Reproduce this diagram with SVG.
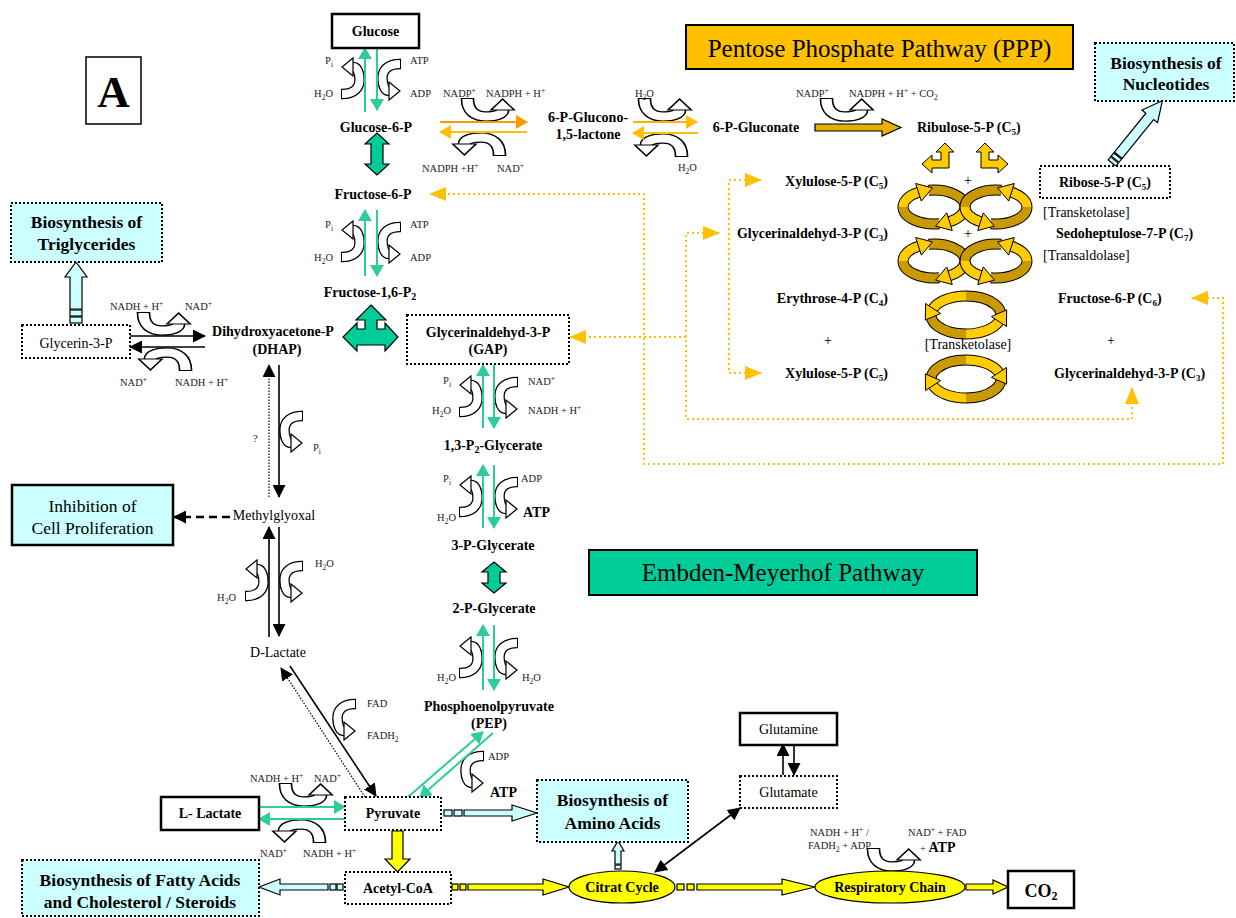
<svg xmlns="http://www.w3.org/2000/svg" width="1236" height="918" viewBox="0 0 1236 918">
<style>
text{font-family:"Liberation Serif","Times New Roman",serif;fill:#000}
.b{font-size:14px;font-weight:bold}
.m{text-anchor:middle}
.e{text-anchor:end}
.s{font-size:10.5px;fill:#222}
.n{font-size:14px}
.big{font-size:17.5px;font-weight:bold}
.dot{fill:#fff;stroke:#000;stroke-width:2;stroke-dasharray:2 2}
.sol{fill:#fff;stroke:#000;stroke-width:2.5}
.cy{fill:#CCFFFF}
.gl{stroke:#2ECC9A;stroke-width:2;fill:none}
.bl{stroke:#000;stroke-width:1.6;fill:none}
.yd{stroke:#FFC000;stroke-width:2;fill:none;stroke-dasharray:2 3}
.ko{fill:none;stroke:#000;stroke-width:11}
.kd{fill:none;stroke:#C99A00;stroke-width:9}
.kl{fill:none;stroke:#FFCC00;stroke-width:9}
.kh{fill:#FFCC00;stroke:#000;stroke-width:1}
.cb{fill:#CCFFFF;stroke:#000;stroke-width:1.2}
.yb{fill:#FFFF00;stroke:#000;stroke-width:1.2}
.gb{fill:#00CC99;stroke:#000;stroke-width:1.2}
</style>
<defs>
<marker id="mg" viewBox="0 0 12 14" refX="11" refY="7" markerWidth="12" markerHeight="14" markerUnits="userSpaceOnUse" orient="auto"><path d="M0,0 L12,7 L0,14 z" fill="#2ECC9A"/></marker>
<marker id="mo" viewBox="0 0 12 14" refX="11" refY="7" markerWidth="12" markerHeight="14" markerUnits="userSpaceOnUse" orient="auto"><path d="M0,0 L12,7 L0,14 z" fill="#FF9900"/></marker>
<marker id="my" viewBox="0 0 12 14" refX="11" refY="7" markerWidth="12" markerHeight="14" markerUnits="userSpaceOnUse" orient="auto"><path d="M0,0 L12,7 L0,14 z" fill="#FFC000"/></marker>
<marker id="mb" viewBox="0 0 13 13" refX="12" refY="6.5" markerWidth="13" markerHeight="13" markerUnits="userSpaceOnUse" orient="auto-start-reverse"><path d="M0,0 L13,6.5 L0,13 z" fill="#000"/></marker>
<marker id="myd" viewBox="0 0 17 14" refX="16" refY="7" markerWidth="17" markerHeight="14" markerUnits="userSpaceOnUse" orient="auto-start-reverse"><path d="M0,0 L17,7 L0,14 z" fill="#FFC000"/></marker>
<g id="ca">
<path d="M-23,15 L-22,15 C-10,15 -4.5,9 -4.5,1 C-4.5,-7 -7,-12 -11,-12" fill="none" stroke="#000" stroke-width="10.5"/>
<path d="M-22,15 C-10,15 -4.5,9 -4.5,1 C-4.5,-7 -7,-12 -11,-12" fill="none" stroke="#fff" stroke-width="8"/>
<polygon points="-11,-21 -22,-12 -11,-3" fill="#fff" stroke="#000" stroke-width="1.2"/>
</g>
<g id="loopL">
<path class="ko" d="M-36.4,-16.7 A31,17 0 0 1 0,0"/><path class="kd" d="M-36.4,-16.7 A31,17 0 0 1 0,0"/>
<path class="ko" d="M-25.6,16.7 A31,17 0 0 1 -62,0"/><path class="kd" d="M-25.6,16.7 A31,17 0 0 1 -62,0"/>
<path class="ko" d="M-62,0 A31,17 0 0 1 -46.5,-14.7"/><path class="kl" d="M-62,0 A31,17 0 0 1 -46.5,-14.7"/>
<path class="ko" d="M0,0 A31,17 0 0 1 -15.5,14.7"/><path class="kl" d="M0,0 A31,17 0 0 1 -15.5,14.7"/>
<polygon class="kh" points="-43.7,-5.9 -32.6,-19.1 -49.3,-23.5"/>
<polygon class="kh" points="-12.7,23.5 -29.4,19.1 -18.3,5.9"/>
</g>
<g id="fig8"><use href="#loopL"/><use href="#loopL" transform="scale(-1,1)"/></g>
<g id="ring">
<path class="ko" d="M0,-19 A35,19 0 0 1 32.9,6.5"/><path class="kd" d="M0,-19 A35,19 0 0 1 32.9,6.5"/>
<path class="ko" d="M0,19 A35,19 0 0 1 -32.9,-6.5"/><path class="kd" d="M0,19 A35,19 0 0 1 -32.9,-6.5"/>
<path class="ko" d="M0,-19 A35,19 0 0 0 -32.9,-6.5"/><path class="kl" d="M0,-19 A35,19 0 0 0 -32.9,-6.5"/>
<path class="ko" d="M0,19 A35,19 0 0 0 32.9,6.5"/><path class="kl" d="M0,19 A35,19 0 0 0 32.9,6.5"/>
<polygon class="kh" points="-25.4,-1.5 -40.7,5.1 -40.4,-11.5"/>
<polygon class="kh" points="40.4,11.5 40.7,-5.1 25.4,1.5"/>
</g>
</defs>
<rect width="1236" height="918" fill="#fff"/>

<g id="connectors">
<path class="yd" d="M1192,298 L1223,298 L1223,464 L644,464 L644,194 L430,194" marker-start="url(#myd)" marker-end="url(#myd)"/>
<path class="yd" d="M719,233 L686,233 L686,419 L1132,419 L1132,388" marker-start="url(#myd)" marker-end="url(#myd)"/>
<path class="yd" d="M686,337 L570,337" marker-end="url(#myd)"/>
<path class="yd" d="M761,180 L729,180 L729,373 L761,373" marker-start="url(#myd)" marker-end="url(#myd)"/>
<use href="#ca" transform="translate(364,79)"/><use href="#ca" transform="translate(378,79) rotate(180)"/>
<use href="#ca" transform="translate(364,242)"/><use href="#ca" transform="translate(378,242) rotate(180)"/>
<use href="#ca" transform="translate(482,397)"/><use href="#ca" transform="translate(495,397) rotate(180)"/>
<use href="#ca" transform="translate(482,497)"/><use href="#ca" transform="translate(495,497) rotate(180)"/>
<use href="#ca" transform="translate(482,658)"/><use href="#ca" transform="translate(495,658) rotate(180)"/>
<use href="#ca" transform="translate(280,431) rotate(180)"/>
<use href="#ca" transform="translate(268,581)"/><use href="#ca" transform="translate(280,581) rotate(180)"/>
<use href="#ca" transform="translate(333,719) rotate(180)"/>
<use href="#ca" transform="translate(461,771) rotate(180)"/>
<use href="#ca" transform="translate(487,121) rotate(90) scale(1,1.3)"/>
<use href="#ca" transform="translate(480,133) rotate(-90) scale(1,1.3)"/>
<use href="#ca" transform="translate(664,121) rotate(90) scale(1,1.3)"/>
<use href="#ca" transform="translate(662,134) rotate(-90) scale(1,1.3)"/>
<use href="#ca" transform="translate(846,121) rotate(90) scale(1,1.3)"/>
<use href="#ca" transform="translate(163,335) rotate(90) scale(1,1.3)"/>
<use href="#ca" transform="translate(166,348) rotate(-90) scale(1,1.3)"/>
<use href="#ca" transform="translate(305,806) rotate(90) scale(1,1.3)"/>
<use href="#ca" transform="translate(300,820) rotate(-90) scale(1,1.3)"/>
<use href="#ca" transform="translate(893,871) rotate(90) scale(1,1.3)"/>
<line class="gl" x1="365" y1="112" x2="365" y2="48" marker-end="url(#mg)"/>
<line class="gl" x1="377" y1="48" x2="377" y2="110" marker-end="url(#mg)"/>
<line class="gl" x1="365" y1="276" x2="365" y2="210" marker-end="url(#mg)"/>
<line class="gl" x1="377" y1="210" x2="377" y2="276" marker-end="url(#mg)"/>
<line class="gl" x1="483" y1="428" x2="483" y2="365" marker-end="url(#mg)"/>
<line class="gl" x1="494" y1="365" x2="494" y2="428" marker-end="url(#mg)"/>
<line class="gl" x1="483" y1="528" x2="483" y2="465" marker-end="url(#mg)"/>
<line class="gl" x1="494" y1="465" x2="494" y2="528" marker-end="url(#mg)"/>
<line class="gl" x1="483" y1="690" x2="483" y2="625" marker-end="url(#mg)"/>
<line class="gl" x1="494" y1="625" x2="494" y2="690" marker-end="url(#mg)"/>
<line class="gl" x1="408" y1="797" x2="483" y2="732" marker-end="url(#mg)"/>
<line class="gl" x1="493" y1="733" x2="420" y2="797" marker-end="url(#mg)"/>
<line class="gl" x1="259" y1="807" x2="345" y2="807" marker-end="url(#mg)"/>
<line class="gl" x1="345" y1="819" x2="259" y2="819" marker-end="url(#mg)"/>
<line x1="440" y1="122" x2="527" y2="122" stroke="#FF9900" stroke-width="2" marker-end="url(#mo)"/>
<line x1="527" y1="132" x2="440" y2="132" stroke="#FFC000" stroke-width="2" marker-end="url(#my)"/>
<line x1="633" y1="122" x2="697" y2="122" stroke="#FFB300" stroke-width="2" marker-end="url(#my)"/>
<line x1="698" y1="133" x2="633" y2="133" stroke="#FFC000" stroke-width="2" marker-end="url(#my)"/>
<polygon points="815,124 882,124 882,119 901,127.5 882,136 882,131 815,131" fill="#E6B000" stroke="#000" stroke-width="1.2"/>
<line class="bl" x1="130" y1="336" x2="205" y2="336" marker-end="url(#mb)"/>
<line class="bl" x1="205" y1="347" x2="130" y2="347" marker-end="url(#mb)"/>
<line class="bl" x1="279" y1="365" x2="279" y2="497" marker-end="url(#mb)"/>
<line x1="269" y1="497" x2="269" y2="365" stroke="#000" stroke-width="1.2" stroke-dasharray="1.5 1.5" marker-end="url(#mb)"/>
<line class="bl" x1="269" y1="637" x2="269" y2="527" marker-end="url(#mb)"/>
<line class="bl" x1="279" y1="527" x2="279" y2="636" marker-end="url(#mb)"/>
<line class="bl" x1="290" y1="666" x2="376" y2="796" marker-end="url(#mb)"/>
<line x1="365" y1="797" x2="281" y2="668" stroke="#000" stroke-width="1.2" stroke-dasharray="1.5 1.5" marker-end="url(#mb)"/>
<line x1="230" y1="517" x2="174" y2="517" stroke="#000" stroke-width="2.5" stroke-dasharray="8 5" marker-end="url(#mb)"/>
<line class="bl" x1="783" y1="775" x2="783" y2="744" marker-end="url(#mb)"/>
<line class="bl" x1="794" y1="744" x2="794" y2="775" marker-end="url(#mb)"/>
<line class="bl" x1="655" y1="872" x2="740" y2="808" marker-start="url(#mb)" marker-end="url(#mb)"/>
<polygon class="gb" points="377,133 389,144 383,144 383,164 389,164 377,175 365,164 371,164 371,144 365,144"/>
<polygon class="gb" points="494,562 506,572 500,572 500,583 506,583 494,593 482,583 488,583 488,572 482,572"/>
<polygon class="gb" points="371,305 386,320 377,320 377,329 385,329 385,323 398,337 385,351 385,345 357,345 357,351 343,337 357,323 357,329 365,329 365,320 356,320"/>
<rect class="cb" x="70" y="317" width="12" height="6"/><rect class="cb" x="70" y="310" width="12" height="6"/>
<polygon class="cb" points="70,309 70,277 65,277 76,262 87,277 82,277 82,309"/>
<g transform="translate(1112,163) rotate(-51)"><rect class="cb" x="0" y="-5" width="4" height="10"/><rect class="cb" x="5" y="-5" width="4" height="10"/><polygon class="cb" points="10,-5 60,-5 60,-10 80,0 60,10 60,5 10,5"/></g>
<rect class="cb" x="444" y="810" width="8" height="6"/><rect class="cb" x="454" y="810" width="8" height="6"/>
<polygon class="cb" points="464,810 512,810 512,805 537,813 512,821 512,816 464,816"/>
<rect class="cb" x="337" y="884" width="6" height="6"/><rect class="cb" x="330" y="884" width="6" height="6"/>
<polygon class="cb" points="328,884 280,884 280,879 259,887 280,895 280,890 328,890"/>
<rect class="cb" x="615" y="865" width="6" height="4"/>
<polygon class="cb" points="615,864 615,851 612,851 618,841 624,851 621,851 621,864"/>
<polygon class="yb" points="392,831 403,831 403,859 410,859 397.5,872 385,859 392,859"/>
<rect class="yb" x="452" y="884" width="6" height="6"/><rect class="yb" x="460" y="884" width="6" height="6"/>
<polygon class="yb" points="468,884 543,884 543,879 569,887 543,895 543,890 468,890"/>
<rect class="yb" x="677" y="884" width="7" height="6"/><rect class="yb" x="687" y="884" width="7" height="6"/>
<polygon class="yb" points="697,884 782,884 782,879 815,887 782,895 782,890 697,890"/>
<polygon class="yb" points="966,884 993,884 993,880 1008,887 993,894 993,890 966,890"/>
<polygon class="kh" points="945,143 954,152 949,152 949,168 932,168 932,173 922,164 932,155 932,160 941,160 941,152 936,152"/>
<polygon class="kh" transform="translate(1930,0) scale(-1,1)" points="945,143 954,152 949,152 949,168 932,168 932,173 922,164 932,155 932,160 941,160 941,152 936,152"/>
<use href="#fig8" transform="translate(965,207)"/>
<use href="#fig8" transform="translate(965,261)"/>
<use href="#ring" transform="translate(966,315)"/>
<use href="#ring" transform="translate(966,379) scale(1,-1)"/>
</g>

<g id="labels">
<text class="s e" x="333" y="64">P<tspan dy="2.5" font-size="7.5">i</tspan></text>
<text class="s e" x="333" y="97">H<tspan dy="2.5" font-size="7.5">2</tspan><tspan dy="-2.5">O</tspan></text>
<text class="s" x="410" y="64">ATP</text><text class="s" x="410" y="97">ADP</text>
<text class="s e" x="333" y="228">P<tspan dy="2.5" font-size="7.5">i</tspan></text>
<text class="s e" x="333" y="261">H<tspan dy="2.5" font-size="7.5">2</tspan><tspan dy="-2.5">O</tspan></text>
<text class="s" x="410" y="228">ATP</text><text class="s" x="410" y="261">ADP</text>
<text class="s e" x="451" y="384">P<tspan dy="2.5" font-size="7.5">i</tspan></text>
<text class="s e" x="451" y="414">H<tspan dy="2.5" font-size="7.5">2</tspan><tspan dy="-2.5">O</tspan></text>
<text class="s" x="528" y="385">NAD<tspan dy="-4" font-size="7.5">+</tspan></text>
<text class="s" x="528" y="414">NADH + H<tspan dy="-4" font-size="7.5">+</tspan></text>
<text class="s e" x="451" y="482">P<tspan dy="2.5" font-size="7.5">i</tspan></text>
<text class="s e" x="456" y="521">H<tspan dy="2.5" font-size="7.5">2</tspan><tspan dy="-2.5">O</tspan></text>
<text class="s" x="521" y="482">ADP</text><text class="b" x="523" y="517">ATP</text>
<text class="s e" x="456" y="681">H<tspan dy="2.5" font-size="7.5">2</tspan><tspan dy="-2.5">O</tspan></text>
<text class="s" x="522" y="681">H<tspan dy="2.5" font-size="7.5">2</tspan><tspan dy="-2.5">O</tspan></text>
<text class="s" x="443" y="97">NADP<tspan dy="-4" font-size="7.5">+</tspan></text>
<text class="s" x="486" y="97">NADPH + H<tspan dy="-4" font-size="7.5">+</tspan></text>
<text class="s" x="422" y="172">NADPH +H<tspan dy="-4" font-size="7.5">+</tspan></text>
<text class="s" x="497" y="172">NAD<tspan dy="-4" font-size="7.5">+</tspan></text>
<text class="s" x="635" y="97">H<tspan dy="2.5" font-size="7.5">2</tspan><tspan dy="-2.5">O</tspan></text>
<text class="s" x="678" y="171">H<tspan dy="2.5" font-size="7.5">2</tspan><tspan dy="-2.5">O</tspan></text>
<text class="s" x="796" y="97">NADP<tspan dy="-4" font-size="7.5">+</tspan></text>
<text class="s" x="849" y="97">NADPH + H<tspan dy="-4" font-size="7.5">+</tspan><tspan dy="4"> + CO</tspan><tspan dy="2.5" font-size="7.5">2</tspan></text>
<text class="s" x="110" y="310">NADH + H<tspan dy="-4" font-size="7.5">+</tspan></text>
<text class="s" x="185" y="310">NAD<tspan dy="-4" font-size="7.5">+</tspan></text>
<text class="s" x="120" y="386">NAD<tspan dy="-4" font-size="7.5">+</tspan></text>
<text class="s" x="175" y="386">NADH + H<tspan dy="-4" font-size="7.5">+</tspan></text>
<text class="s" x="253" y="442" font-size="12">?</text>
<text class="s" x="313" y="451">P<tspan dy="2.5" font-size="7.5">i</tspan></text>
<text class="s" x="315" y="567">H<tspan dy="2.5" font-size="7.5">2</tspan><tspan dy="-2.5">O</tspan></text>
<text class="s e" x="236" y="601">H<tspan dy="2.5" font-size="7.5">2</tspan><tspan dy="-2.5">O</tspan></text>
<text class="s" x="367" y="707">FAD</text>
<text class="s" x="367" y="739">FADH<tspan dy="2.5" font-size="7.5">2</tspan></text>
<text class="s" x="488" y="760">ADP</text><text class="b" x="490" y="797">ATP</text>
<text class="s" x="250" y="782">NADH + H<tspan dy="-4" font-size="7.5">+</tspan></text>
<text class="s" x="314" y="782">NAD<tspan dy="-4" font-size="7.5">+</tspan></text>
<text class="s" x="260" y="857">NAD<tspan dy="-4" font-size="7.5">+</tspan></text>
<text class="s" x="303" y="857">NADH + H<tspan dy="-4" font-size="7.5">+</tspan></text>
<text class="s" x="810" y="836">NADH + H<tspan dy="-4" font-size="7.5">+</tspan><tspan dy="4">  /</tspan></text>
<text class="s" x="808" y="849">FADH<tspan dy="2.5" font-size="7.5">2</tspan><tspan dy="-2.5"> + ADP</tspan></text>
<text class="s" x="908" y="836">NAD<tspan dy="-4" font-size="7.5">+</tspan><tspan dy="4"> + FAD</tspan></text>
<text class="s" x="920" y="852">+ <tspan font-size="14px" font-weight="bold" fill="#000">ATP</tspan></text>
<text class="n" x="964" y="185" fill="#333">+</text>
<text class="n" x="964" y="238" fill="#333">+</text>
<text class="n m" x="828" y="345" fill="#333">+</text>
<text class="n m" x="1111" y="345" fill="#333">+</text>
<text class="n" x="1043" y="217" fill="#333">[Transketolase]</text>
<text class="n" x="1043" y="260" fill="#333">[Transaldolase]</text>
<text class="n m" x="968" y="349" fill="#333">[Transketolase]</text>
</g>

<g id="A"><rect x="86" y="57" width="55" height="67" fill="#fff" stroke="#000" stroke-width="1.5"/><text x="113.5" y="107" class="m" font-size="45" font-weight="bold">A</text></g>
<g id="glucose"><rect class="sol" x="332" y="14" width="87" height="34"/><text class="b m" x="375.5" y="36">Glucose</text></g>
<g id="g6p"><text class="b m" x="376" y="132">Glucose-6-P</text></g>
<g id="f6p"><text class="b m" x="373" y="199">Fructose-6-P</text></g>
<g id="f16p"><text class="b m" x="370" y="297">Fructose-1,6-P<tspan dy="3" font-size="10">2</tspan></text></g>
<g id="dhap"><text class="b m" x="273" y="336">Dihydroxyacetone-P</text><text class="b m" x="277" y="354">(DHAP)</text></g>
<g id="gap"><rect class="dot" x="407" y="315" width="162" height="49"/><text class="b m" x="488" y="337">Glycerinaldehyd-3-P</text><text class="b m" x="488" y="354">(GAP)</text></g>
<g id="bpg"><text class="b m" x="493" y="450">1,3-P<tspan dy="3" font-size="10">2</tspan><tspan dy="-3">-Glycerate</tspan></text></g>
<g id="pg3"><text class="b m" x="493" y="550">3-P-Glycerate</text></g>
<g id="pg2"><text class="b m" x="494" y="613">2-P-Glycerate</text></g>
<g id="pep"><text class="b m" x="489" y="711">Phosphoenolpyruvate</text><text class="b m" x="489" y="728">(PEP)</text></g>
<g id="pyruvate"><rect class="dot" x="345" y="797" width="96" height="33"/><text class="b m" x="393" y="818">Pyruvate</text></g>
<g id="llactate"><rect class="sol" x="161" y="797" width="98" height="33"/><text class="b m" x="210" y="818">L- Lactate</text></g>
<g id="acetylcoa"><rect class="dot" x="345" y="872" width="106" height="32"/><text class="b m" x="398" y="893">Acetyl-CoA</text></g>
<g id="citrat"><ellipse cx="622" cy="887" rx="53" ry="16" fill="#FFFF00" stroke="#000" stroke-width="1.2"/><text class="b m" x="622" y="892">Citrat Cycle</text></g>
<g id="respiratory"><ellipse cx="890" cy="887" rx="75" ry="16" fill="#FFFF00" stroke="#000" stroke-width="1.2"/><text class="b m" x="890" y="892">Respiratory Chain</text></g>
<g id="co2"><rect class="sol" x="1008" y="871" width="66" height="37"/><text class="m" x="1041" y="897" font-size="18" font-weight="bold">CO<tspan dy="3" font-size="12">2</tspan></text></g>
<g id="glutamine"><rect class="sol" x="740" y="713" width="97" height="32"/><text class="n m" x="788.5" y="734">Glutamine</text></g>
<g id="glutamate"><rect class="dot" x="740" y="776" width="97" height="32"/><text class="n m" x="788.5" y="797">Glutamate</text></g>
<g id="aminoacids"><rect class="dot cy" x="537" y="780" width="151" height="62"/><text class="big m" x="612.5" y="806">Biosynthesis of</text><text class="big m" x="612.5" y="829">Amino Acids</text></g>
<g id="fattyacids"><rect class="dot cy" x="22" y="860" width="237" height="56"/><text class="big m" x="140" y="886">Biosynthesis of Fatty Acids</text><text class="big m" x="140" y="908">and Cholesterol / Steroids</text></g>
<g id="triglycerides"><rect class="dot cy" x="11" y="203" width="151" height="59"/><text class="big m" x="86.5" y="228">Biosynthesis of</text><text class="big m" x="86.5" y="250">Triglycerides</text></g>
<g id="glycerin3p"><rect class="dot" x="22" y="325" width="108" height="33"/><text class="n m" x="76" y="348">Glycerin-3-P</text></g>
<g id="methylglyoxal"><text class="n m" x="274" y="520">Methylglyoxal</text></g>
<g id="inhibition"><rect class="sol cy" x="12" y="485" width="161" height="60"/><text class="m" x="92.5" y="512" font-size="17.5">Inhibition of</text><text class="m" x="92.5" y="534" font-size="17.5">Cell Proliferation</text></g>
<g id="dlactate"><text class="n m" x="278" y="657">D-Lactate</text></g>
<g id="ppp-title"><rect x="686" y="25" width="387" height="44" fill="#FFC000" stroke="#000" stroke-width="2"/><text class="m" x="879.5" y="57" font-size="25">Pentose Phosphate Pathway (PPP)</text></g>
<g id="emp-title"><rect x="589" y="550" width="388" height="45" fill="#00CC99" stroke="#000" stroke-width="2"/><text class="m" x="783" y="581" font-size="25">Embden-Meyerhof Pathway</text></g>
<g id="nucleotides"><rect class="dot cy" x="1095" y="43" width="139" height="58"/><text class="big m" x="1166" y="69">Biosynthesis of</text><text class="big m" x="1166" y="90">Nucleotides</text></g>
<g id="ribose5p"><rect class="dot" x="1040" y="166" width="130" height="32"/><text class="b m" x="1105" y="187">Ribose-5-P (C<tspan dy="3" font-size="9">5</tspan><tspan dy="-3">)</tspan></text></g>
<g id="lactone"><text class="b m" x="588" y="122">6-P-Glucono-</text><text class="b m" x="588" y="139">1,5-lactone</text></g>
<g id="gluconate"><text class="b m" x="756" y="132">6-P-Gluconate</text></g>
<g id="ribulose5p"><text class="b" x="917" y="132">Ribulose-5-P (C<tspan dy="3" font-size="9">5</tspan><tspan dy="-3">)</tspan></text></g>
<g id="xylulose1"><text class="b e" x="888" y="186">Xylulose-5-P (C<tspan dy="3" font-size="9">5</tspan><tspan dy="-3">)</tspan></text></g>
<g id="gap-ppp1"><text class="b e" x="888" y="238">Glycerinaldehyd-3-P (C<tspan dy="3" font-size="9">3</tspan><tspan dy="-3">)</tspan></text></g>
<g id="sedoheptulose"><text class="b" x="1056" y="238">Sedoheptulose-7-P (C<tspan dy="3" font-size="9">7</tspan><tspan dy="-3">)</tspan></text></g>
<g id="erythrose"><text class="b e" x="888" y="303">Erythrose-4-P (C<tspan dy="3" font-size="9">4</tspan><tspan dy="-3">)</tspan></text></g>
<g id="f6p-ppp"><text class="b" x="1058" y="303">Fructose-6-P (C<tspan dy="3" font-size="9">6</tspan><tspan dy="-3">)</tspan></text></g>
<g id="xylulose2"><text class="b e" x="888" y="378">Xylulose-5-P (C<tspan dy="3" font-size="9">5</tspan><tspan dy="-3">)</tspan></text></g>
<g id="gap-ppp2"><text class="b" x="1054" y="378">Glycerinaldehyd-3-P (C<tspan dy="3" font-size="9">3</tspan><tspan dy="-3">)</tspan></text></g>
</svg>
